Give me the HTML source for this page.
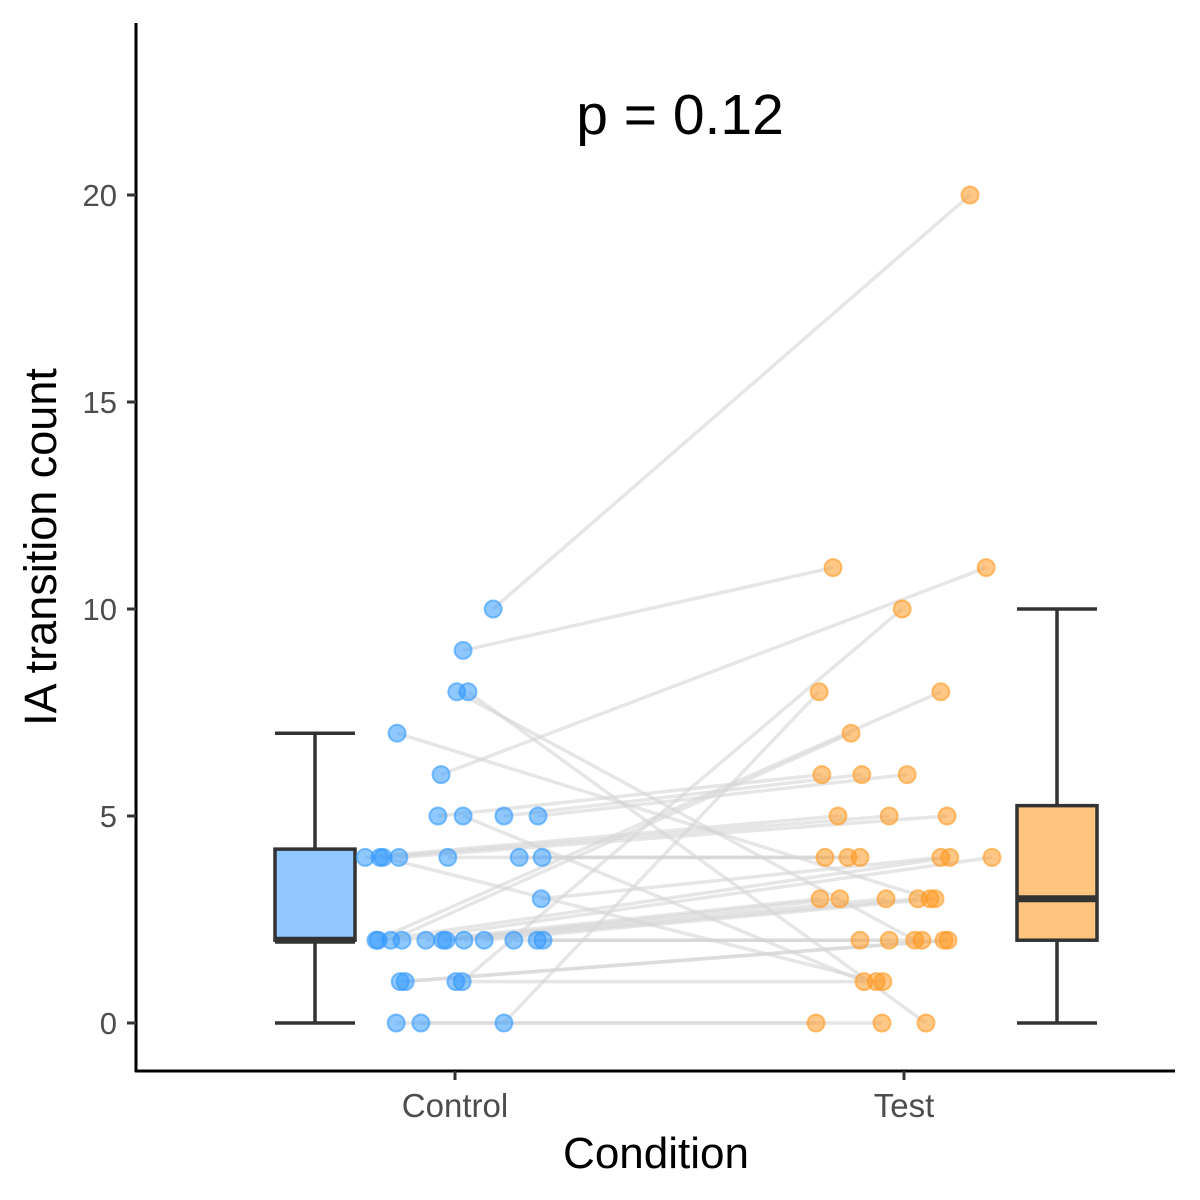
<!DOCTYPE html>
<html><head><meta charset="utf-8"><style>body{margin:0;background:#fff}svg{display:block}</style></head>
<body>
<svg id="chart" width="1200" height="1200" viewBox="0 0 1200 1200" xmlns="http://www.w3.org/2000/svg" font-family="Liberation Sans, Arial, sans-serif">
<g id="lines"></g>
<g id="boxes"></g>
<g id="points"></g>
<g id="axes"></g>
<text x="680" y="134" font-size="57" text-anchor="middle" fill="#000">p = 0.12</text>
<text x="656" y="1168" font-size="44" text-anchor="middle" fill="#000">Condition</text>
<text transform="translate(56,547) rotate(-90)" font-size="45" text-anchor="middle" fill="#000">IA transition count</text>
</svg>
<script>
const categories = ["Control","Test"];
const yTicks = [0,5,10,15,20];
const controlVals = [10,9,6,8,8,7,0,1,2,2,5,5,5,5,4,4,4,4,4,4,4,3,2,2,2,2,2,2,2,2,2,2,1,1,1,0,0];
const testVals = [20,11,11,2,0,3,8,10,8,7,6,1,6,6,5,5,1,5,4,4,4,4,4,4,3,3,3,3,3,2,2,2,2,2,1,0,0];
const controlJitter = [0.085,0.018,-0.031,0.004,0.029,-0.129,0.109,0.016,-0.176,-0.143,-0.038,0.018,0.109,0.185,-0.200,-0.167,-0.160,-0.125,-0.016,0.143,0.194,0.192,-0.171,-0.118,-0.065,-0.027,-0.020,0.020,0.065,0.131,0.183,0.196,-0.122,-0.111,0.002,-0.131,-0.076];
const testJitter = [0.147,-0.158,0.183,0.024,0.049,0.058,-0.189,-0.004,0.082,-0.118,-0.183,-0.089,-0.094,0.007,-0.147,-0.033,-0.062,0.096,-0.176,-0.125,-0.098,0.082,0.102,0.196,-0.187,-0.143,-0.040,0.031,0.069,-0.098,-0.033,0.040,0.089,0.098,-0.047,-0.196,-0.049];
// box stats: [whiskerLow, q1, median, q3, whiskerHigh]
const controlBox = [0,2,2,4.2,7];
const testBox = [0,2,3,5.25,10];

const NS="http://www.w3.org/2000/svg";
const y = v => 1023 - v*41.4;
const x = c => 455 + c*449;
function mk(tag, attrs, parent){const e=document.createElementNS(NS,tag);for(const k in attrs)e.setAttribute(k,attrs[k]);parent.appendChild(e);return e;}
const L=document.getElementById('lines'),P=document.getElementById('points'),B=document.getElementById('boxes'),A=document.getElementById('axes');

controlVals.forEach((v,i)=>{
  const l=mk('line',{x1:x(0+controlJitter[i]),y1:y(v),x2:x(1+testJitter[i]),y2:y(testVals[i]),stroke:'#d6d6d6','stroke-width':3.5,'stroke-opacity':0.6},L);
  
  
});
function box(stats,c,off,fill,name){
  const cx=x(c)+off, w=80, g=mk('g',{},B);
  
  
  const st={stroke:'#333','stroke-width':3.5,fill:'none'};
  mk('line',Object.assign({x1:cx,x2:cx,y1:y(stats[0]),y2:y(stats[1])},st),g);
  mk('line',Object.assign({x1:cx,x2:cx,y1:y(stats[3]),y2:y(stats[4])},st),g);
  mk('line',Object.assign({x1:cx-w/2,x2:cx+w/2,y1:y(stats[0]),y2:y(stats[0])},st),g);
  mk('line',Object.assign({x1:cx-w/2,x2:cx+w/2,y1:y(stats[4]),y2:y(stats[4])},st),g);
  mk('rect',{x:cx-w/2,y:y(stats[3]),width:w,height:y(stats[1])-y(stats[3]),fill:fill,stroke:'#333','stroke-width':3.5},g);
  mk('line',{x1:cx-w/2,x2:cx+w/2,y1:y(stats[2]),y2:y(stats[2]),stroke:'#333','stroke-width':7},g);
}
box(controlBox,0,-140,'#90c8ff','control-box');
box(testBox,1,153,'#ffc580','test-box');
function pts(vals,jit,c,col,name){
  vals.forEach((v,i)=>{
    const e=mk('circle',{cx:x(c+jit[i]),cy:y(v),r:8.5,fill:col,'fill-opacity':0.55,stroke:col,'stroke-opacity':0.6,'stroke-width':2},P);
    
    
  });
}
pts(controlVals,controlJitter,0,'#3399ff','control-point');
pts(testVals,testJitter,1,'#ff9922','test-point');

const ya=mk('line',{x1:136,x2:136,y1:23,y2:1072,stroke:'#000','stroke-width':3},A);


const xa=mk('line',{x1:135,x2:1175,y1:1071,y2:1071,stroke:'#000','stroke-width':3},A);


yTicks.forEach(t=>{
  mk('line',{x1:127,x2:136,y1:y(t),y2:y(t),stroke:'#333','stroke-width':3},A);
  const tx=mk('text',{x:117,y:y(t)+11,'font-size':31,'text-anchor':'end',fill:'#4d4d4d'},A);
  tx.textContent=t;
  
  
});
categories.forEach((c,i)=>{
  mk('line',{x1:x(i),x2:x(i),y1:1071,y2:1080,stroke:'#333','stroke-width':3},A);
  const tx=mk('text',{x:x(i),y:1117,'font-size':33,'text-anchor':'middle',fill:'#4d4d4d'},A);
  tx.textContent=c;
  
  
});
</script>
</body></html>
